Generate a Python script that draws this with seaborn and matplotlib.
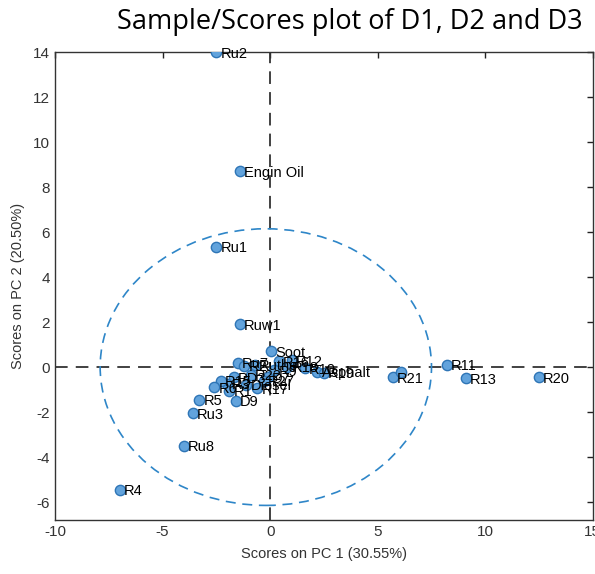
import numpy as np
import pandas as pd
import matplotlib
matplotlib.use("Agg")
import matplotlib.pyplot as plt
import seaborn as sns
from matplotlib.patches import Ellipse

# ---- data ----
samples = ["Ru2", "Engin Oil", "Ru1", "Ruw1", "Soot", "R11", "R13", "R20", "R21", "R21b",
           "R5", "Ru3", "Ru8", "R4", "D9",
           "Ru7", "Ruthe", "R16", "R12", "R10", "Asphalt", "R19", "R18", "D7", "R17",
           "Diesel", "R3", "PD3", "R22", "R27", "R15", "R1", "R2", "R6", "R9"]
labels = ["Ru2", "Engin Oil", "Ru1", "Ruw1", "Soot", "R11", "R13", "R20", "R21", "",
          "R5", "Ru3", "Ru8", "R4", "D9",
          "Ru7", "Ruthe", "R16", "R12", "R10", "Asphalt", "R19", "R18", "D7", "R17",
          "Diesel", "R3", "PD3", "R22", "R27", "R15", "R1", "R2", "R6", "R9"]
pc1 = [-2.5, -1.4, -2.5, -1.4, 0.05, 8.2, 9.1, 12.5, 5.7, 6.1,
       -3.3, -3.6, -4.0, -7.0, -1.6,
       -1.5, -0.7, 0.4, 1.0, 1.6, 2.2, 2.5, 0.8, -0.1, -0.6,
       -1.1, -2.0, -1.7, -0.9, -0.3, -2.3, -1.9, -1.2, -2.6, 0.2]
pc2 = [14.0, 8.7, 5.35, 1.9, 0.7, 0.1, -0.5, -0.45, -0.45, -0.2,
       -1.45, -2.05, -3.5, -5.45, -1.5,
       0.2, 0.1, 0.25, 0.3, -0.05, -0.2, -0.25, 0.0, -0.45, -0.95,
       -0.8, -0.75, -0.45, -0.35, -0.6, -0.6, -1.05, 0.05, -0.9, -0.15]

df = pd.DataFrame({"sample": samples, "label": labels, "PC1": pc1, "PC2": pc2})

sns.set_style("white")
plt.rcParams["font.family"] = ["Liberation Sans", "DejaVu Sans"]
plt.rcParams["axes.unicode_minus"] = False

fig = plt.figure(figsize=(5.95, 5.74), dpi=100)
ax = fig.add_axes([0.0924, 0.094, 0.904, 0.815])

ax.axhline(0, color="#333333", ls=(0, (7, 4.5)), lw=1.3, zorder=1)
ax.axvline(0, color="#333333", ls=(0, (7, 4.5)), lw=1.3, zorder=1)
ax.add_patch(Ellipse((-0.2, 0.0), 15.4, 12.3, fill=False, ec="#2E86C8",
                     ls=(0, (6, 4)), lw=1.2, zorder=1))

sns.scatterplot(data=df, x="PC1", y="PC2", ax=ax, s=55, color="#62A3DC",
                edgecolor="#2E75B6", linewidth=1.0, zorder=3, legend=False)

for _, r in df.iterrows():
    if r["label"]:
        ax.annotate(r["label"], (r["PC1"], r["PC2"]), xytext=(3, -1),
                    textcoords="offset points", ha="left", va="center",
                    fontsize=10.5, color="black", zorder=4)

ax.set_xlim(-10, 15)
ax.set_ylim(-6.8, 14)
ax.set_xticks([-10, -5, 0, 5, 10, 15])
ax.set_yticks(np.arange(-6, 15, 2))
ax.tick_params(direction="in", top=True, right=True, length=4, width=1,
               labelsize=11, colors="#222222", labelcolor="#333333")
for s in ax.spines.values():
    s.set_color("#333333")
    s.set_linewidth(1)

ax.set_xlabel("Scores on PC 1 (30.55%)", fontsize=10.5, color="#333333", labelpad=6)
ax.set_ylabel("Scores on PC 2 (20.50%)", fontsize=10.5, color="#333333", labelpad=6)

fig.text(0.588, 0.962, "Sample/Scores plot of D1, D2 and D3", ha="center", va="center",
         fontsize=19.5, family=["Open Sans", "DejaVu Sans"], color="black")

fig.savefig("out.png", dpi=100, facecolor="white")
